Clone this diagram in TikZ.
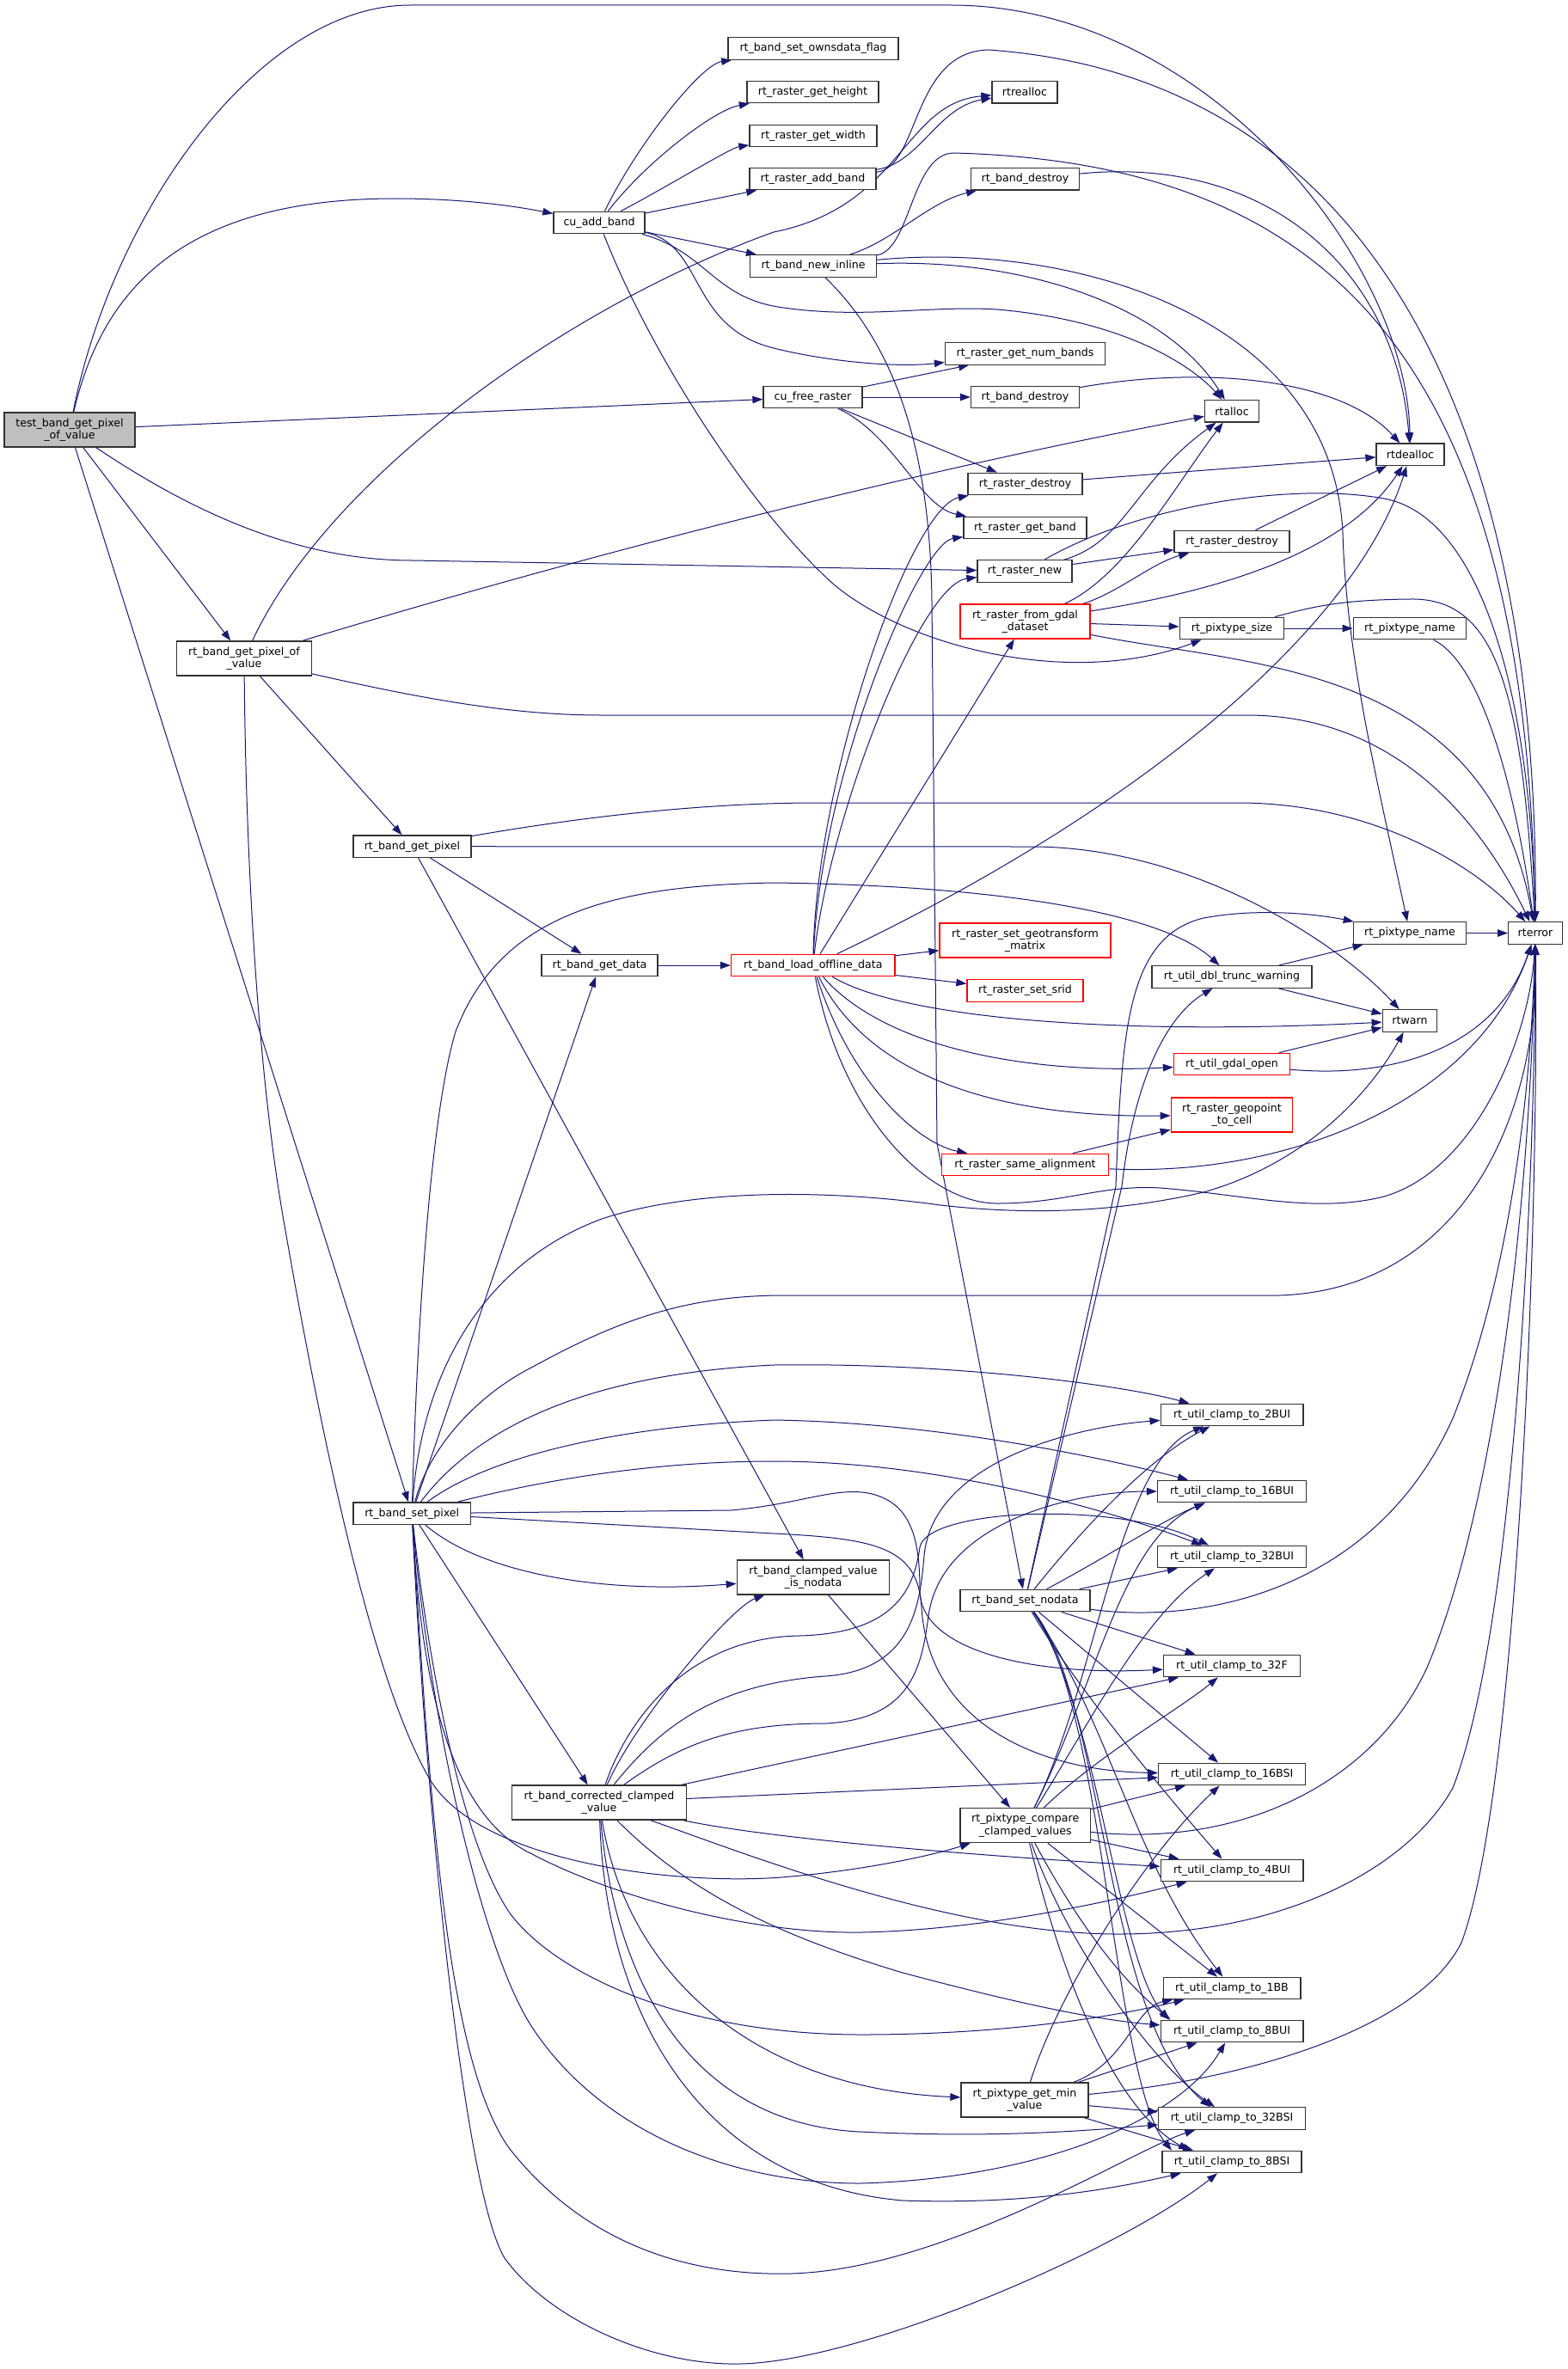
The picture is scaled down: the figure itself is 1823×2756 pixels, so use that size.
\documentclass[tikz,border=0pt]{standalone}
\usepackage{fontspec}
\setmainfont{DejaVu Sans}
\usetikzlibrary{arrows.meta}
\pgfdeclarelayer{edgelayer}
\pgfsetlayers{edgelayer,main}
\definecolor{edgec}{HTML}{191970}
\definecolor{rootfill}{HTML}{BFBFBF}
\definecolor{nodeb}{HTML}{333333}
\begin{document}
\begin{tikzpicture}[x=1pt,y=-1pt,
  fn/.style={draw=nodeb, line width=1.3pt, fill=white, rectangle, inner sep=0pt,
    minimum height=25.5pt, align=center, text=black, font={\fontsize{12.6}{14.3}\selectfont}},
  redb/.style={draw=red},
  root/.style={fill=rootfill},
  tall/.style={minimum height=40pt},
  ln/.style={draw=edgec, line width=1pt, -{Triangle[length=12pt,width=8.5pt]}}]
\useasboundingbox (0,0) rectangle (1823,2756);
% ---------- nodes ----------
\node[fn,root,tall,minimum width=152pt] (T) at (81,500) {test\_band\_get\_pixel\\\_of\_value};
\node[fn,minimum width=106pt] (C) at (697,259) {cu\_add\_band};
\node[fn,minimum width=198pt] (own) at (946,56.5) {rt\_band\_set\_ownsdata\_flag};
\node[fn,minimum width=153pt] (hgt) at (945.5,107) {rt\_raster\_get\_height};
\node[fn,minimum width=148pt] (wid) at (946,158) {rt\_raster\_get\_width};
\node[fn,minimum width=147pt] (addb) at (945.5,208) {rt\_raster\_add\_band};
\node[fn,minimum width=147pt] (N) at (946,309.5) {rt\_band\_new\_inline};
\node[fn,minimum width=115pt] (F) at (945.5,462) {cu\_free\_raster};
\node[fn,minimum width=76pt] (rea) at (1192,107.3) {rtrealloc};
\node[fn,minimum width=126pt] (bd1) at (1192.5,208.3) {rt\_band\_destroy};
\node[fn,minimum width=186pt] (nb) at (1192.5,411.4) {rt\_raster\_get\_num\_bands};
\node[fn,minimum width=126pt] (bd2) at (1192.5,462) {rt\_band\_destroy};
\node[fn,minimum width=63pt] (ra) at (1433,478.3) {rtalloc};
\node[fn,minimum width=79pt] (rd) at (1640.5,528.8) {rtdealloc};
\node[fn,minimum width=133pt] (rds1) at (1192.5,563) {rt\_raster\_destroy};
\node[fn,minimum width=143pt] (rgb) at (1192.4,614) {rt\_raster\_get\_band};
\node[fn,minimum width=110pt] (rn) at (1192,664.5) {rt\_raster\_new};
\node[fn,minimum width=134pt] (rds2) at (1433,630) {rt\_raster\_destroy};
\node[fn,tall,minimum width=157pt] (P) at (284,766) {rt\_band\_get\_pixel\_of\\\_value};
\node[fn,minimum width=137pt] (GP) at (479.4,984.7) {rt\_band\_get\_pixel};
\node[fn,minimum width=135pt] (GD) at (697.5,1123) {rt\_band\_get\_data};
\node[fn,redb,minimum width=190.5pt] (L) at (945.8,1123) {rt\_band\_load\_offline\_data};
\node[fn,redb,tall,minimum width=151pt] (G) at (1192.5,723) {rt\_raster\_from\_gdal\\\_dataset};
\node[fn,minimum width=121.4pt] (ps) at (1433,731) {rt\_pixtype\_size};
\node[fn,minimum width=131.5pt] (pn1) at (1640,731) {rt\_pixtype\_name};
\node[fn,redb,tall,minimum width=199pt] (geo) at (1192.5,1094) {rt\_raster\_set\_geotransform\\\_matrix};
\node[fn,minimum width=131.5pt] (pn2) at (1640,1085.5) {rt\_pixtype\_name};
\node[fn,minimum width=62.5pt] (err) at (1786,1085.5) {rterror};
\node[fn,minimum width=186pt] (dtw) at (1433,1136.5) {rt\_util\_dbl\_trunc\_warning};
\node[fn,redb,minimum width=135pt] (srid) at (1192.5,1152.5) {rt\_raster\_set\_srid};
\node[fn,minimum width=63.5pt] (warn) at (1640,1187.5) {rtwarn};
\node[fn,redb,minimum width=135pt] (gdo) at (1433,1238) {rt\_util\_gdal\_open};
\node[fn,redb,tall,minimum width=141.4pt] (gpc) at (1433,1297) {rt\_raster\_geopoint\\\_to\_cell};
\node[fn,redb,minimum width=194.6pt] (sa) at (1192.5,1355) {rt\_raster\_same\_alignment};
\node[fn,minimum width=136.4pt] (SP) at (479.2,1760.7) {rt\_band\_set\_pixel};
\node[fn,tall,minimum width=177.5pt] (iv) at (946,1835) {rt\_band\_clamped\_value\\\_is\_nodata};
\node[fn,minimum width=165.7pt] (c2bui) at (1433,1646) {rt\_util\_clamp\_to\_2BUI};
\node[fn,minimum width=173pt] (c16bui) at (1433,1735) {rt\_util\_clamp\_to\_16BUI};
\node[fn,minimum width=173pt] (c32bui) at (1433,1811) {rt\_util\_clamp\_to\_32BUI};
\node[fn,minimum width=151pt] (SN) at (1192.5,1862) {rt\_band\_set\_nodata};
\node[fn,minimum width=159pt] (c32f) at (1433,1938) {rt\_util\_clamp\_to\_32F};
\node[fn,tall,minimum width=203pt] (CC) at (697,2097) {rt\_band\_corrected\_clamped\\\_value};
\node[fn,minimum width=170.6pt] (c16bsi) at (1433,2064) {rt\_util\_clamp\_to\_16BSI};
\node[fn,tall,minimum width=151.5pt] (CP) at (1192.7,2123.6) {rt\_pixtype\_compare\\\_clamped\_values};
\node[fn,minimum width=165.7pt] (c4bui) at (1433,2176) {rt\_util\_clamp\_to\_4BUI};
\node[fn,minimum width=159.7pt] (c1bb) at (1433,2313) {rt\_util\_clamp\_to\_1BB};
\node[fn,minimum width=165.7pt] (c8bui) at (1433,2363) {rt\_util\_clamp\_to\_8BUI};
\node[fn,tall,minimum width=148pt] (MV) at (1192,2443) {rt\_pixtype\_get\_min\\\_value};
\node[fn,minimum width=170.6pt] (c32bsi) at (1433,2464.5) {rt\_util\_clamp\_to\_32BSI};
\node[fn,minimum width=162pt] (c8bsi) at (1433,2515) {rt\_util\_clamp\_to\_8BSI};
% ---------- edges ----------
\begin{pgfonlayer}{edgelayer}
\fill[white] (0,0) rectangle (1823,2756);
% test_band_get_pixel_of_value
\draw[ln] (T) .. controls (130,250) and (300,6) .. (477,6) -- (1106,6) .. controls (1400,6) and (1636,300) .. (rd);
\draw[ln] (T) .. controls (120,330) and (220,231) .. (460,231) .. controls (540,231) and (600,240) .. (C);
\draw[ln] (T) -- (F);
\draw[ln] (T) .. controls (230,600) and (350,652) .. (480,652) -- (rn);
\draw[ln] (T) -- (P);
\draw[ln] (T) -- (SP);
% cu_add_band
\draw[ln] (C) .. controls (740,170) and (815,75) .. (own);
\draw[ln] (C) .. controls (750,190) and (830,128) .. (hgt);
\draw[ln] (C) .. controls (780,215) and (850,172) .. (wid);
\draw[ln] (C) -- (addb);
\draw[ln] (C) -- (N);
\draw[ln] (C) .. controls (820,285) and (800,380) .. (900,405) .. controls (960,420) and (1040,428) .. (nb);
\draw[ln] (C) .. controls (820,292) and (830,345) .. (905,357) .. controls (1000,372) and (1080,355) .. (1160,360) .. controls (1330,375) and (1400,440) .. (ra);
\draw[ln] (C) .. controls (760,420) and (880,600) .. (970,680) .. controls (1060,755) and (1250,800) .. (ps);
% rt_raster_add_band
\draw[ln] (addb) .. controls (1070,190) and (1090,125) .. (rea);
\draw[ln] (addb) .. controls (1070,195) and (1060,60) .. (1150,58) .. controls (1600,90) and (1790,500) .. (err);
% rt_band_new_inline
\draw[ln] (N) .. controls (1040,280) and (1080,235) .. (bd1);
\draw[ln] (N) .. controls (1060,290) and (1060,178) .. (1110,178) .. controls (1550,190) and (1775,420) .. (err);
\draw[ln] (N) .. controls (1200,300) and (1360,360) .. (ra);
\draw[ln] (N) .. controls (1250,280) and (1550,370) .. (1562,620) .. controls (1566,760) and (1600,900) .. (pn2);
\draw[ln] (N) .. controls (1040,400) and (1082,520) .. (1084,700) -- (1090,1330) -- (SN);
% cu_free_raster
\draw[ln] (F) -- (nb);
\draw[ln] (F) -- (bd2);
\draw[ln] (F) -- (rds1);
\draw[ln] (F) .. controls (1040,505) and (1070,590) .. (rgb);
% destroy / new / gdal
\draw[ln] (bd1) .. controls (1480,180) and (1625,320) .. (rd);
\draw[ln] (bd2) .. controls (1400,425) and (1560,440) .. (rd);
\draw[ln] (rds1) -- (rd);
\draw[ln] (rds2) -- (rd);
\draw[ln] (rn) .. controls (1310,630) and (1320,560) .. (ra);
\draw[ln] (rn) -- (rds2);
\draw[ln] (rn) .. controls (1320,590) and (1500,560) .. (1610,580) .. controls (1720,600) and (1780,800) .. (err);
\draw[ln] (G) .. controls (1310,670) and (1370,560) .. (ra);
\draw[ln] (G) .. controls (1300,690) and (1340,655) .. (rds2);
\draw[ln] (G) .. controls (1400,690) and (1560,650) .. (rd);
\draw[ln] (G) -- (ps);
\draw[ln] (G) .. controls (1450,775) and (1730,770) .. (err);
\draw[ln] (ps) -- (pn1);
\draw[ln] (ps) .. controls (1530,705) and (1560,698) .. (1640,697) .. controls (1740,695) and (1770,800) .. (err);
\draw[ln] (pn1) .. controls (1720,770) and (1760,900) .. (err);
\draw[ln] (pn2) -- (err);
\draw[ln] (dtw) -- (pn2);
\draw[ln] (dtw) -- (warn);
\draw[ln] (gdo) -- (warn);
\draw[ln] (gdo) .. controls (1620,1255) and (1740,1220) .. (err);
\draw[ln] (sa) -- (gpc);
\draw[ln] (sa) .. controls (1500,1370) and (1720,1280) .. (err);
% rt_band_get_pixel_of_value
\draw[ln] (P) .. controls (380,560) and (650,360) .. (900,270) .. controls (1050,240) and (1050,120) .. (rea);
\draw[ln] (P) .. controls (600,670) and (1000,560) .. (ra);
\draw[ln] (P) .. controls (500,815) and (600,832) .. (700,832) -- (1450,832) .. controls (1620,832) and (1720,950) .. (err);
\draw[ln] (P) -- (GP);
\draw[ln] (P) .. controls (286,1000) and (300,1250) .. (330,1420) .. controls (370,1650) and (430,1950) .. (500,2070) .. controls (560,2170) and (800,2195) .. (920,2183) .. controls (1000,2176) and (1080,2160) .. (CP);
% rt_band_get_pixel
\draw[ln] (GP) .. controls (650,955) and (800,934) .. (950,934) -- (1440,934) .. controls (1600,934) and (1720,1010) .. (err);
\draw[ln] (GP) -- (1200,985) .. controls (1380,985) and (1550,1090) .. (warn);
\draw[ln] (GP) -- (GD);
\draw[ln] (GP) -- (iv);
\draw[ln] (GD) -- (L);
% rt_band_load_offline_data
\draw[ln] (L) -- (geo);
\draw[ln] (L) -- (srid);
\draw[ln] (L) -- (G);
\draw[ln] (L) .. controls (950,900) and (1060,590) .. (rds1);
\draw[ln] (L) .. controls (955,900) and (1070,632) .. (rgb);
\draw[ln] (L) .. controls (965,950) and (1070,680) .. (rn);
\draw[ln] (L) .. controls (1350,930) and (1580,720) .. (rd);
\draw[ln] (L) .. controls (1050,1185) and (1300,1205) .. (warn);
\draw[ln] (L) .. controls (1030,1220) and (1200,1250) .. (gdo);
\draw[ln] (L) .. controls (1020,1270) and (1200,1300) .. (gpc);
\draw[ln] (L) .. controls (990,1260) and (1067,1330) .. (sa);
\draw[ln] (L) .. controls (980,1300) and (1080,1400) .. (1160,1400) .. controls (1240,1400) and (1280,1378) .. (1350,1382) .. controls (1450,1390) and (1530,1412) .. (1610,1392) .. controls (1720,1360) and (1780,1200) .. (err);
% rt_band_set_pixel
\draw[ln] (SP) .. controls (485,1550) and (500,1300) .. (530,1200) .. controls (580,1070) and (700,1030) .. (900,1027) .. controls (1150,1030) and (1350,1060) .. (dtw);
\draw[ln] (SP) -- (GD);
\draw[ln] (SP) .. controls (490,1600) and (560,1470) .. (700,1418) .. controls (800,1385) and (950,1382) .. (1094,1402) .. controls (1200,1414) and (1300,1410) .. (1400,1387) .. controls (1530,1350) and (1600,1260) .. (warn);
\draw[ln] (SP) .. controls (500,1680) and (560,1620) .. (620,1590) .. controls (720,1535) and (800,1507) .. (912,1507) -- (1488,1507) .. controls (1700,1500) and (1790,1300) .. (err);
\draw[ln] (SP) .. controls (540,1680) and (650,1600) .. (900,1588) .. controls (1100,1585) and (1300,1610) .. (c2bui);
\draw[ln] (SP) .. controls (560,1700) and (700,1660) .. (900,1652) .. controls (1100,1655) and (1300,1700) .. (c16bui);
\draw[ln] (SP) .. controls (620,1725) and (750,1700) .. (900,1700) .. controls (1100,1700) and (1300,1760) .. (c32bui);
\draw[ln] (SP) -- (850,1757) .. controls (930,1750) and (970,1730) .. (1010,1737) .. controls (1060,1747) and (1070,1790) .. (1070,1850) .. controls (1070,1920) and (1200,1950) .. (c32f);
\draw[ln] (SP) -- (900,1784) .. controls (1020,1790) and (1068,1800) .. (1072,1870) .. controls (1080,2000) and (1200,2060) .. (c16bsi);
\draw[ln] (SP) .. controls (560,1830) and (700,1855) .. (iv);
\draw[ln] (SP) -- (CC);
\draw[ln] (SP) .. controls (490,1950) and (520,2110) .. (619,2157) .. controls (720,2210) and (880,2250) .. (1002,2248) .. controls (1150,2245) and (1300,2210) .. (c4bui);
\draw[ln] (SP) .. controls (500,1950) and (540,2150) .. (594,2227) .. controls (650,2300) and (800,2367) .. (1002,2367) .. controls (1150,2367) and (1280,2350) .. (c1bb);
\draw[ln] (SP) .. controls (500,2000) and (560,2270) .. (620,2360) .. controls (700,2480) and (850,2540) .. (1000,2540) .. controls (1200,2535) and (1370,2470) .. (c8bui);
\draw[ln] (SP) .. controls (500,2100) and (520,2400) .. (593,2500) .. controls (680,2610) and (800,2648) .. (920,2645) .. controls (1100,2640) and (1320,2500) .. (c32bsi);
\draw[ln] (SP) .. controls (495,2100) and (540,2550) .. (587,2627) .. controls (640,2700) and (760,2752) .. (860,2750) .. controls (1000,2748) and (1300,2620) .. (c8bsi);
% rt_band_clamped_value_is_nodata
\draw[ln] (iv) -- (CP);
% rt_band_corrected_clamped_value
\draw[ln] (CC) .. controls (740,2000) and (850,1870) .. (iv);
\draw[ln] (CC) .. controls (760,2020) and (820,1960) .. (960,1950) .. controls (1060,1943) and (1070,1870) .. (1075,1810) .. controls (1085,1700) and (1250,1660) .. (c2bui);
\draw[ln] (CC) .. controls (790,2030) and (850,2005) .. (960,2005) .. controls (1060,2000) and (1072,1940) .. (1080,1880) .. controls (1095,1770) and (1250,1735) .. (c16bui);
\draw[ln] (CC) .. controls (730,2000) and (800,1905) .. (930,1903) .. controls (1040,1900) and (1063,1850) .. (1070,1800) .. controls (1078,1755) and (1300,1745) .. (c32bui);
\draw[ln] (CC) -- (c32f);
\draw[ln] (CC) -- (c16bsi);
\draw[ln] (CC) .. controls (900,2140) and (1150,2160) .. (c4bui);
\draw[ln] (CC) .. controls (850,2150) and (1100,2250) .. (1300,2250) .. controls (1500,2250) and (1640,2170) .. (1690,2080) .. controls (1760,1900) and (1785,1400) .. (err);
\draw[ln] (CC) .. controls (800,2200) and (900,2250) .. (1050,2295) .. controls (1200,2335) and (1280,2350) .. (c8bui);
\draw[ln] (CC) .. controls (730,2300) and (880,2430) .. (MV);
\draw[ln] (CC) .. controls (715,2300) and (800,2470) .. (1000,2480) .. controls (1150,2487) and (1250,2480) .. (c32bsi);
\draw[ln] (CC) .. controls (705,2350) and (820,2540) .. (1050,2560) .. controls (1200,2565) and (1300,2545) .. (c8bsi);
% rt_band_set_nodata
\draw[ln] (SN) .. controls (1250,1790) and (1330,1700) .. (c2bui);
\draw[ln] (SN) .. controls (1290,1810) and (1350,1770) .. (c16bui);
\draw[ln] (SN) -- (c32bui);
\draw[ln] (SN) -- (c32f);
\draw[ln] (SN) -- (c16bsi);
\draw[ln] (SN) .. controls (1250,1960) and (1350,2080) .. (c4bui);
\draw[ln] (SN) .. controls (1290,2000) and (1320,2170) .. (c1bb);
\draw[ln] (SN) .. controls (1275,1980) and (1300,2280) .. ([xshift=10pt]c8bui.north west);
\draw[ln] (SN) .. controls (1285,1980) and (1285,2350) .. ([xshift=-25pt]c32bsi.north);
\draw[ln] (SN) .. controls (1285,1985) and (1295,2420) .. ([xshift=-70pt]c8bsi.north);
\draw[ln] (SN) -- (1305,1380) .. controls (1320,1250) and (1360,1180) .. (dtw);
\draw[ln] (SN) -- (1298,1380) .. controls (1305,1200) and (1310,1090) .. (1400,1068) .. controls (1470,1055) and (1540,1065) .. (pn2);
\draw[ln] (SN) .. controls (1400,1890) and (1600,1850) .. (1690,1650) .. controls (1750,1500) and (1780,1300) .. (err);
% rt_pixtype_compare_clamped_values
\draw[ln] (CP) -- (c16bsi);
\draw[ln] (CP) -- (c4bui);
\draw[ln] (CP) -- (c1bb);
\draw[ln] (CP) .. controls (1250,2230) and (1300,2300) .. ([xshift=12pt]c8bui.north west);
\draw[ln] (CP) .. controls (1240,2260) and (1340,2400) .. ([xshift=-20pt]c32bsi.north);
\draw[ln] (CP) .. controls (1230,2280) and (1290,2450) .. ([xshift=-50pt]c8bsi.north);
\draw[ln] (CP) .. controls (1275,1960) and (1300,1700) .. (c2bui);
\draw[ln] (CP) .. controls (1275,1960) and (1305,1790) .. (c16bui);
\draw[ln] (CP) .. controls (1270,2000) and (1330,1880) .. (c32bui);
\draw[ln] (CP) .. controls (1280,2040) and (1370,1990) .. (c32f);
\draw[ln] (CP) .. controls (1450,2150) and (1600,2070) .. (1660,1940) .. controls (1740,1750) and (1780,1400) .. (err);
% rt_pixtype_get_min_value
\draw[ln] (MV) .. controls (1230,2320) and (1330,2160) .. (c16bsi);
\draw[ln] (MV) .. controls (1310,2400) and (1320,2335) .. (c1bb);
\draw[ln] (MV) -- (c8bui);
\draw[ln] (MV) -- (c32bsi);
\draw[ln] (MV) -- (c8bsi);
\draw[ln] (MV) .. controls (1450,2420) and (1650,2360) .. (1700,2260) .. controls (1760,2100) and (1790,1500) .. (err);
\end{pgfonlayer}
\end{tikzpicture}
\end{document}
